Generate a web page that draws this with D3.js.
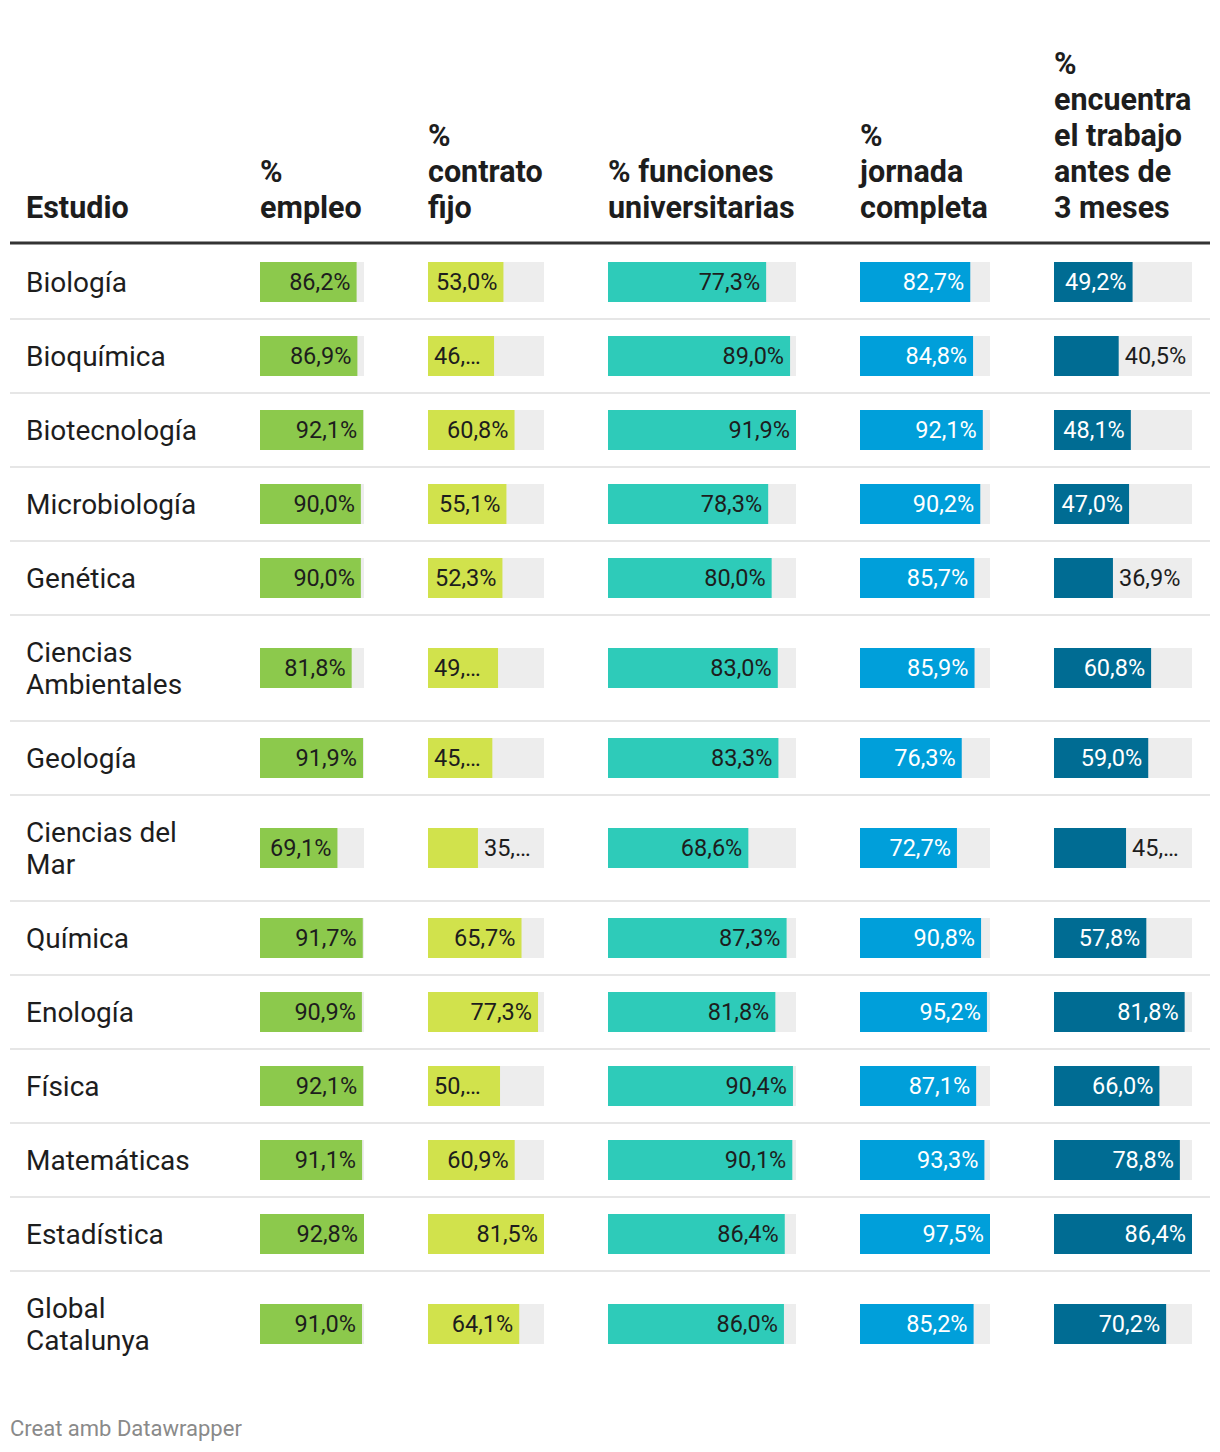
<!DOCTYPE html>
<html>
<head>
<meta charset="utf-8">
<script src="https://cdn.jsdelivr.net/npm/d3@7"></script>
<style>
  html, body { margin: 0; padding: 0; background: #fff; }
  svg { display: block; font-family: Roboto, "Noto Sans", sans-serif; }
</style>
</head>
<body>
<svg id="chart" width="1220" height="1452"></svg>
<script>
// ---------- DATA ----------
const studies = ["Biología", "Bioquímica", "Biotecnología", "Microbiología", "Genética",
  "Ciencias Ambientales", "Geología", "Ciencias del Mar", "Química", "Enología",
  "Física", "Matemáticas", "Estadística", "Global Catalunya"];
const empleo     = [86.2, 86.9, 92.1, 90.0, 90.0, 81.8, 91.9, 69.1, 91.7, 90.9, 92.1, 91.1, 92.8, 91.0];
const contrato   = [53.0, 46.4, 60.8, 55.1, 52.3, 49.2, 45.2, 35.1, 65.7, 77.3, 50.6, 60.9, 81.5, 64.1];
const funciones  = [77.3, 89.0, 91.9, 78.3, 80.0, 83.0, 83.3, 68.6, 87.3, 81.8, 90.4, 90.1, 86.4, 86.0];
const jornada    = [82.7, 84.8, 92.1, 90.2, 85.7, 85.9, 76.3, 72.7, 90.8, 95.2, 87.1, 93.3, 97.5, 85.2];
const encuentra  = [49.2, 40.5, 48.1, 47.0, 36.9, 60.8, 59.0, 45.1, 57.8, 81.8, 66.0, 78.8, 86.4, 70.2];
const firstHeader = ["Estudio"];
const columnHeaders = [
  ["%", "empleo"],
  ["%", "contrato", "fijo"],
  ["% funciones", "universitarias"],
  ["%", "jornada", "completa"],
  ["%", "encuentra", "el trabajo", "antes de", "3 meses"]
];
const footerText = "Creat amb Datawrapper";

// ---------- STYLE / LAYOUT ----------
const series = [empleo, contrato, funciones, jornada, encuentra];
const colX = [260, 428, 608, 860, 1054];
const colW = [104, 116, 188, 130, 138];
const barColors = ["#8cc94c", "#d1e24c", "#2ecbb9", "#009fda", "#006c93"];
const insideText = ["#1d1d1d", "#1d1d1d", "#1d1d1d", "#ffffff", "#ffffff"];
const trackColor = "#ededed";
const textColor = "#1d1d1d";
const left = 10, right = 1210, nameX = 26;
const headerBase = 218, headerLH = 36, headerSize = 30.5;
const ruleY = 243;
const nameSize = 28, nameLH = 32, nameWrap = 188;
const valSize = 23.5, barH = 40, pad = 7, fitPad = 6;

const svg = d3.select("#chart");
svg.append("rect").attr("width", 1220).attr("height", 1452).attr("fill", "#fff");

// text measurement helper
const meas = svg.append("text").attr("visibility", "hidden");
function tw(str, size, weight) {
  meas.attr("font-size", size).attr("font-weight", weight || 400).text(str);
  return meas.node().getComputedTextLength();
}
function wrap(str, size, maxW) {
  const words = str.split(" ");
  const lines = [];
  let cur = "";
  words.forEach(w => {
    const t = cur ? cur + " " + w : w;
    if (cur && tw(t, size) > maxW) { lines.push(cur); cur = w; } else cur = t;
  });
  if (cur) lines.push(cur);
  return lines;
}
function truncate(str, size, maxW) {
  if (tw(str, size) <= maxW) return str;
  for (let n = str.length - 1; n > 0; n--) {
    const s = str.slice(0, n) + "…";
    if (tw(s, size) <= maxW) return s;
  }
  return "…";
}
const f1 = d3.format(".1f");
const fmt = v => f1(v).replace(".", ",") + "%";

// ---------- HEADER ----------
const hdr = svg.append("g").attr("font-weight", 700).attr("font-size", headerSize).attr("fill", textColor);
function headerCell(x, lines) {
  const n = lines.length;
  const t = hdr.append("text").attr("x", x);
  lines.forEach((l, i) => {
    t.append("tspan").attr("x", x).attr("y", headerBase - (n - 1 - i) * headerLH).text(l);
  });
}
headerCell(nameX, firstHeader);
columnHeaders.forEach((lines, c) => headerCell(colX[c], lines));

svg.append("line").attr("x1", left).attr("x2", right).attr("y1", ruleY).attr("y2", ruleY)
  .attr("stroke", "#333").attr("stroke-width", 3);

// ---------- ROWS ----------
const scales = series.map((s, c) => d3.scaleLinear().domain([0, d3.max(s)]).range([0, colW[c]]));
let y = ruleY + 2;
const body = svg.append("g");
studies.forEach((name, r) => {
  const lines = wrap(name, nameSize, nameWrap);
  const h = lines.length * nameLH + 42;
  const cy = y + h / 2;
  const g = body.append("g");
  const t = g.append("text").attr("font-size", nameSize).attr("fill", textColor);
  lines.forEach((l, i) => {
    t.append("tspan").attr("x", nameX)
      .attr("y", cy + (i - (lines.length - 1) / 2) * nameLH + nameSize * 0.35).text(l);
  });
  series.forEach((s, c) => {
    const v = s[r];
    const x0 = colX[c], W = colW[c];
    const bw = scales[c](v);
    g.append("rect").attr("x", x0).attr("y", cy - barH / 2).attr("width", W).attr("height", barH).attr("fill", trackColor);
    g.append("rect").attr("x", x0).attr("y", cy - barH / 2).attr("width", bw).attr("height", barH).attr("fill", barColors[c]);
    const full = fmt(v);
    const w = tw(full, valSize);
    const ty = cy + valSize * 0.36;
    const lab = g.append("text").attr("font-size", valSize).attr("y", ty);
    if (bw >= w + 2 * fitPad) {
      lab.attr("x", x0 + bw - pad + 1).attr("text-anchor", "end").attr("fill", insideText[c]).text(full);
    } else {
      const rem = W - bw;
      if (rem >= w) {
        lab.attr("x", x0 + bw + pad - 1).attr("fill", textColor).text(truncate(full, valSize, rem - pad - 2));
      } else {
        lab.attr("x", x0 + pad - 1).attr("fill", insideText[c]).text(truncate(full, valSize, bw - 2 * pad));
      }
    }
  });
  y += h;
  if (r < studies.length - 1) {
    body.append("line").attr("x1", left).attr("x2", right).attr("y1", y).attr("y2", y)
      .attr("stroke", "#e6e6e6").attr("stroke-width", 2);
  }
});

// ---------- FOOTER ----------
svg.append("text").attr("x", left).attr("y", 1436).attr("font-size", 22).attr("fill", "#8a8a8a").text(footerText);
meas.remove();
</script>
</body>
</html>
